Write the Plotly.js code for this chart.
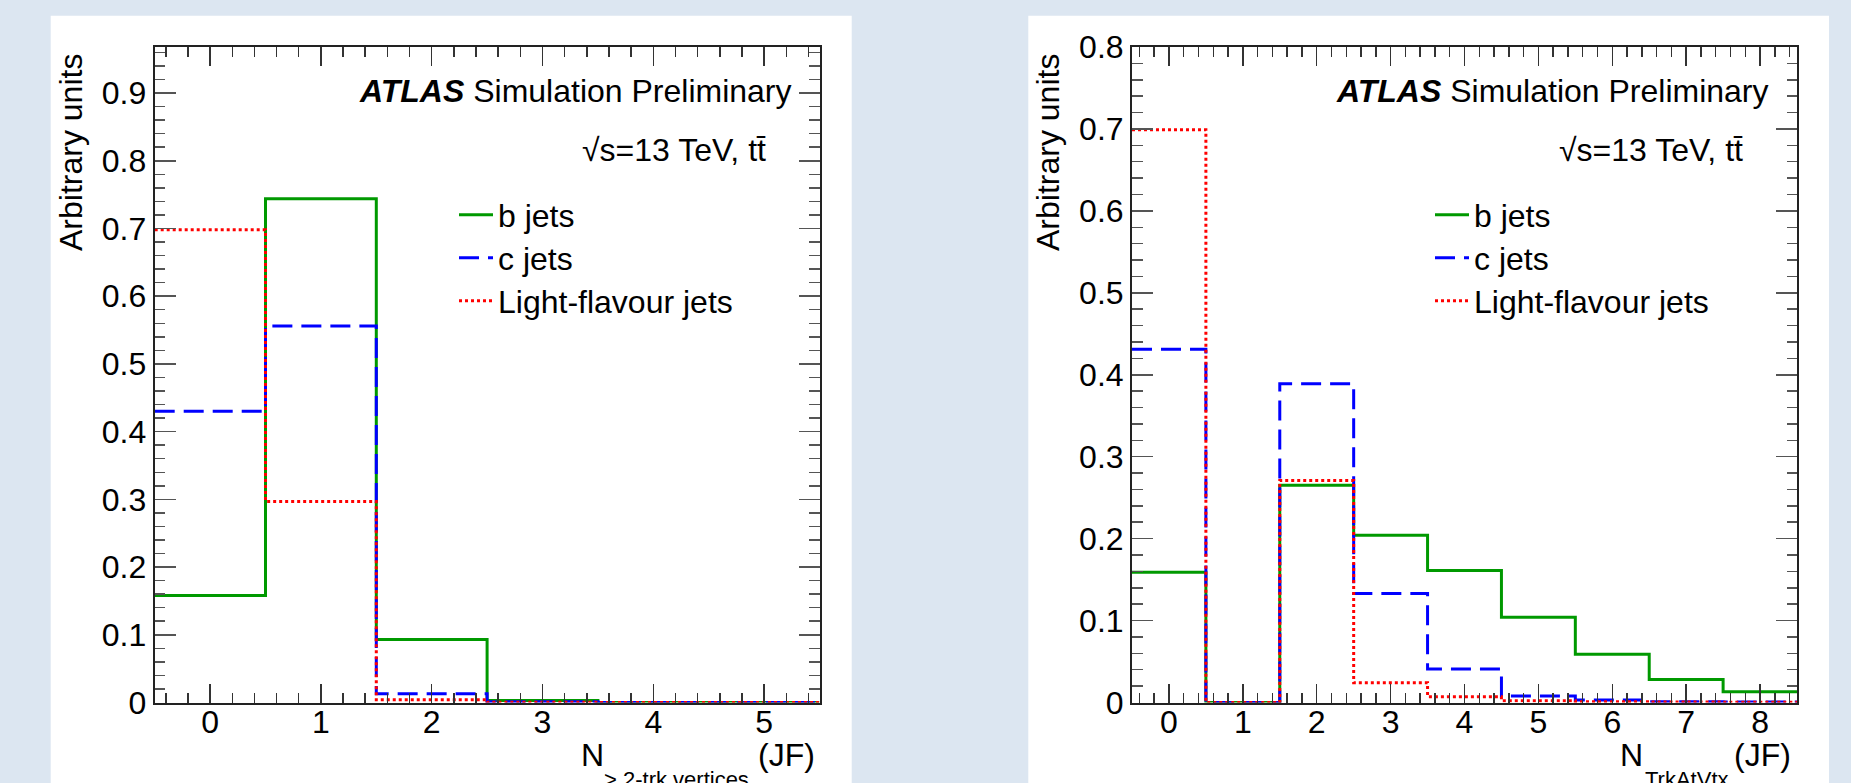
<!DOCTYPE html>
<html>
<head>
<meta charset="utf-8">
<script src="https://cdn.plot.ly/plotly-3.0.1.min.js"></script>
<style>html,body{margin:0;padding:0;background:#dce6f1;}</style>
</head>
<body>
<div id="chart" style="width:1851px;height:783px;"></div>
<script>
// ---------- data ----------
const leftBins = [0, 1, 2, 3, 4, 5];
const leftB     = [0.158, 0.744, 0.093, 0.003, 0.0, 0.0];
const leftC     = [0.430, 0.556, 0.013, 0.001, 0.0, 0.0];
const leftLight = [0.698, 0.297, 0.004, 0.0005, 0.0, 0.0];

const rightBins  = [0, 1, 2, 3, 4, 5, 6, 7, 8];
const rightB     = [0.159, 0.0, 0.265, 0.204, 0.161, 0.104, 0.059, 0.028, 0.013];
const rightC     = [0.431, 0.0, 0.389, 0.133, 0.041, 0.008, 0.003, 0.001, 0.0005];
const rightLight = [0.699, 0.0, 0.271, 0.024, 0.007, 0.002, 0.001, 0.0005, 0.0002];

const seriesNames = ['b jets', 'c jets', 'Light-flavour jets'];
const leftXTitle = {main: 'N', sub: '> 2-trk vertices', tail: '(JF)'};
const rightXTitle = {main: 'N', sub: 'TrkAtVtx', tail: '(JF)'};
const yTitle = 'Arbitrary units';
const atlasLabel = '<b><i>ATLAS</i></b> Simulation Preliminary';
const energyLabel = '\u221As=13 TeV, tt\u0304';

// ---------- helpers ----------
const W = 1851, H = 783;
const px = x => x / W;
const py = y => 1 - y / H;
const FONT = 'Liberation Sans, Arial, Helvetica, sans-serif';

function edges(bins) {
  const e = bins.map(b => b - 0.5);
  e.push(bins[bins.length - 1] + 0.5);
  return e;
}
function stepY(vals) { return vals.concat([vals[vals.length - 1]]); }

const styles = [
  {color: '#009900', width: 3, dash: 'solid'},
  {color: '#0000ff', width: 3, dash: '20px,9px'},
  {color: '#ff0000', width: 3, dash: '3px,3px'}
];

function mk(bins, vals, i, xa, ya, leg) {
  return {
    type: 'scatter', mode: 'lines',
    x: edges(bins), y: stepY(vals),
    line: {shape: 'hv', color: styles[i].color, width: styles[i].width, dash: styles[i].dash},
    name: seriesNames[i], xaxis: xa, yaxis: ya, legend: leg,
    hoverinfo: 'skip'
  };
}

const data = [
  mk(leftBins, leftB, 0, 'x', 'y', 'legend'),
  mk(leftBins, leftC, 1, 'x', 'y', 'legend2'),
  mk(leftBins, leftLight, 2, 'x', 'y', 'legend3'),
  mk(rightBins, rightB, 0, 'x2', 'y2', 'legend4'),
  mk(rightBins, rightC, 1, 'x2', 'y2', 'legend5'),
  mk(rightBins, rightLight, 2, 'x2', 'y2', 'legend6')
];

function xAxis(domainPx, range, anchor) {
  return {
    domain: [px(domainPx[0]), px(domainPx[1])], range: range, anchor: anchor,
    showgrid: false, zeroline: false,
    showline: true, linecolor: '#222', linewidth: 2, mirror: 'allticks',
    ticks: 'inside', ticklen: 19, tickwidth: 1.5, tickcolor: '#333',
    tick0: 0, dtick: 1, ticklabelstandoff: -10,
    minor: {ticks: 'inside', dtick: 0.2, ticklen: 10, tickwidth: 1.5, tickcolor: '#333', showgrid: false},
    tickfont: {family: FONT, size: 32, color: '#000'},
    fixedrange: true
  };
}
function yAxis(range, anchor) {
  return {
    domain: [py(702.5), py(47)], range: range, anchor: anchor,
    showgrid: false, zeroline: false,
    showline: true, linecolor: '#222', linewidth: 2, mirror: 'allticks',
    ticks: 'inside', ticklen: 21, tickwidth: 1.5, tickcolor: '#555',
    tick0: 0, dtick: 0.1,
    minor: {ticks: 'inside', dtick: 0.02, ticklen: 10.5, tickwidth: 1.5, tickcolor: '#555', showgrid: false},
    tickfont: {family: FONT, size: 32, color: '#000'},
    fixedrange: true
  };
}

function ann(text, x, y, xanchor, size, extra) {
  return Object.assign({
    text: text, xref: 'paper', yref: 'paper', x: px(x), y: py(y),
    xanchor: xanchor, yanchor: 'middle', showarrow: false,
    font: {family: FONT, size: size, color: '#000'}
  }, extra || {});
}

const annotations = [
  // left panel
  ann(atlasLabel, 794, 91, 'right', 32),
  ann(energyLabel, 768, 150, 'right', 32),
  ann(yTitle, 71, 153, 'center', 32, {textangle: -90}),
  ann(leftXTitle.main, 579, 755, 'left', 32),
  ann(leftXTitle.sub, 602, 779, 'left', 22),
  ann(leftXTitle.tail, 817, 755, 'right', 32),
  // right panel
  ann(atlasLabel, 1771, 91, 'right', 32),
  ann(energyLabel, 1745, 150, 'right', 32),
  ann(yTitle, 1048, 153, 'center', 32, {textangle: -90}),
  ann(rightXTitle.main, 1618, 755, 'left', 32),
  ann(rightXTitle.sub, 1643, 779, 'left', 22),
  ann(rightXTitle.tail, 1793, 755, 'right', 32)
];

const shapes = [
  {type: 'rect', xref: 'paper', yref: 'paper', x0: px(50.7), x1: px(851.7), y0: py(800), y1: py(15.7),
   fillcolor: '#ffffff', line: {width: 0}, layer: 'below'},
  {type: 'rect', xref: 'paper', yref: 'paper', x0: px(1028.3), x1: px(1829), y0: py(800), y1: py(15.7),
   fillcolor: '#ffffff', line: {width: 0}, layer: 'below'}
];

function legendAt(xText, yCenter) {
  return {
    bgcolor: 'rgba(0,0,0,0)', borderwidth: 0,
    font: {family: FONT, size: 32, color: '#000'},
    xanchor: 'left', yanchor: 'middle', itemwidth: 34,
    x: px(xText - 48), y: py(yCenter)
  };
}

const layout = {
  width: W, height: H,
  margin: {l: 0, r: 0, t: 0, b: 0, pad: 0},
  paper_bgcolor: '#dce6f1', plot_bgcolor: 'rgba(0,0,0,0)',
  showlegend: true,
  xaxis: xAxis([154.7, 819.5], [-0.5, 5.5], 'y'),
  yaxis: yAxis([0, 0.968], 'x'),
  xaxis2: xAxis([1132, 1797], [-0.5, 8.5], 'y2'),
  yaxis2: yAxis([0, 0.8], 'x2'),
  legend:  legendAt(502, 215),
  legend2: legendAt(502, 258),
  legend3: legendAt(502, 301),
  legend4: legendAt(1478, 215),
  legend5: legendAt(1478, 258),
  legend6: legendAt(1478, 301),
  annotations: annotations,
  shapes: shapes
};

Plotly.newPlot('chart', data, layout, {displayModeBar: false, staticPlot: true});
</script>
</body>
</html>
